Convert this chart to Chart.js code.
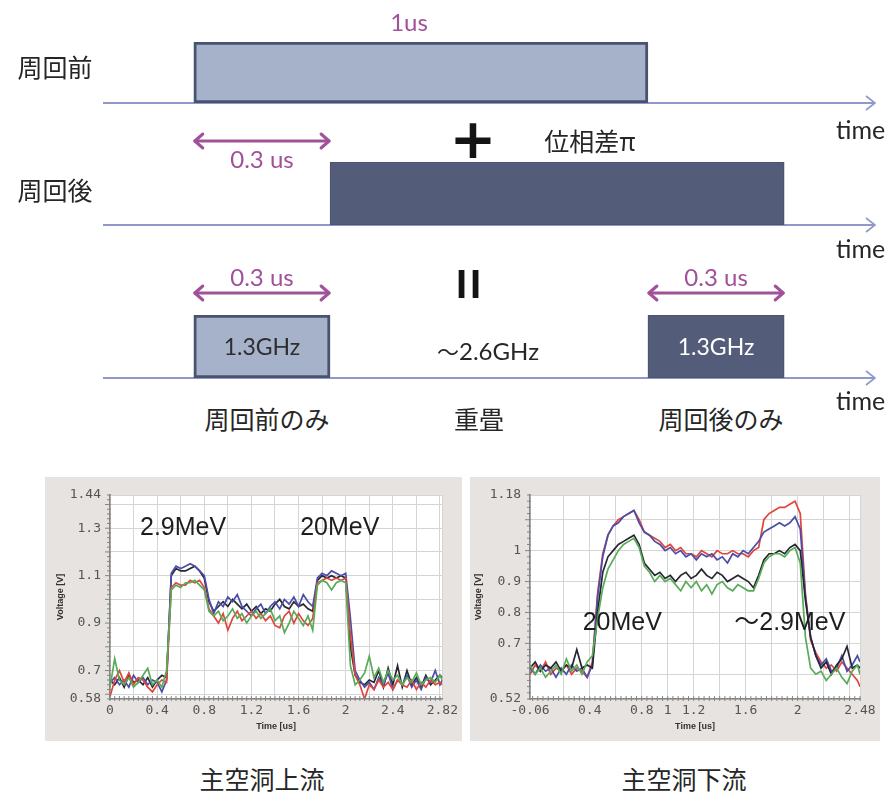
<!DOCTYPE html>
<html>
<head>
<meta charset="utf-8">
<script src="https://cdn.jsdelivr.net/npm/chart.js@4/dist/chart.umd.min.js"></script>
<style>
  html, body { margin: 0; padding: 0; background: #fff; }
  body { width: 891px; height: 802px; position: relative; overflow: hidden; }
  canvas { position: absolute; }
  .lbl { position: absolute; white-space: nowrap; line-height: 1; transform: translate(-50%, -50%); color: #262626; }
  .left { transform: translate(0, -50%); }
  .jp { font-family: "Noto Sans CJK JP", "Noto Sans", sans-serif; font-size: 25px; }
  .en { font-family: Lato, "Noto Sans CJK JP", sans-serif; font-size: 24px; }
  .purple { color: #a1509a; }
</style>
</head>
<body>

<!-- pulse timing rows -->
<canvas id="row1" width="891" height="120" style="left:0;top:0"></canvas>
<canvas id="row2" width="891" height="120" style="left:0;top:120px"></canvas>
<canvas id="row3" width="891" height="140" style="left:0;top:250px"></canvas>

<div class="lbl jp" style="left:55px;top:66px">周回前</div>
<div class="lbl jp" style="left:55px;top:189px">周回後</div>
<div class="lbl en purple" style="left:409px;top:22px">1us</div>
<div class="lbl en left" style="left:836px;top:129px;font-size:25px">time</div>
<div class="lbl en left" style="left:836px;top:248px;font-size:25px">time</div>
<div class="lbl en left" style="left:836px;top:400px;font-size:25px">time</div>
<div class="lbl" style="left:473px;top:138px;font:900 56px 'DejaVu Sans',sans-serif;color:#141414">+</div>
<div class="lbl jp" style="left:590px;top:140px">位相差π</div>
<div class="lbl" style="left:470px;top:284px;font:bold 40px 'Liberation Sans',sans-serif;letter-spacing:3px;color:#141414">II</div>
<div class="lbl" style="left:488px;top:350px;font-size:24px;font-family:'Noto Sans CJK JP',sans-serif"><span style="font-size:22px">〜</span><span style="font-family:Lato,sans-serif">2.6GHz</span></div>
<div class="lbl jp" style="left:267px;top:418px">周回前のみ</div>
<div class="lbl jp" style="left:479px;top:418px">重畳</div>
<div class="lbl jp" style="left:721px;top:418px">周回後のみ</div>

<!-- measured waveforms -->
<canvas id="upstream" width="417" height="264" style="left:45px;top:477px"></canvas>
<canvas id="downstream" width="410" height="264" style="left:470px;top:477px"></canvas>

<div class="lbl jp" style="left:262px;top:778px">主空洞上流</div>
<div class="lbl jp" style="left:684px;top:778px">主空洞下流</div>

<script>
// ---------- pulse timing (us) ----------
const timeWindow = [-0.2, 1.5];
const pulseBefore = [0, 1.0];
const pulseAfter = [0.3, 1.3];
const onlyBefore = [0, 0.3];
const onlyAfter = [1.0, 1.3];
const gapSpan = [0, 0.3];
const tailSpan = [1.0, 1.3];
const spanText = '0.3 us';
const freqText = '1.3GHz';

// ---------- upstream cavity trace ----------
const upTime = [0,0.04,0.08,0.12,0.16,0.2,0.24,0.28,0.32,0.36,0.4,0.44,0.48,0.52,0.56,0.6,0.64,0.68,0.72,0.76,0.8,0.84,0.88,0.92,0.96,1,1.04,1.08,1.12,1.16,1.2,1.24,1.28,1.32,1.36,1.4,1.44,1.48,1.52,1.56,1.6,1.64,1.68,1.72,1.76,1.8,1.84,1.88,1.92,1.96,2,2.04,2.08,2.12,2.16,2.2,2.24,2.28,2.32,2.36,2.4,2.44,2.48,2.52,2.56,2.6,2.64,2.68,2.72,2.76,2.8,2.82];
const upRed = [0.59,0.66,0.70,0.65,0.69,0.64,0.67,0.66,0.63,0.61,0.64,0.66,0.65,
  1.05,1.07,1.06,1.06,1.08,1.07,1.08,1.05,
  0.96,0.93,0.90,0.94,0.87,0.92,0.95,0.91,0.93,0.95,0.92,0.94,0.91,0.93,0.89,0.88,0.93,0.95,0.90,0.94,0.91,0.89,0.92,
  1.07,1.08,1.09,1.08,1.09,1.08,1.09,
  0.85,0.68,0.64,0.58,0.64,0.62,0.66,0.63,0.65,0.62,0.66,0.64,0.63,0.66,0.62,0.65,0.63,0.66,0.64,0.65,0.64];
const upGreen = [0.63,0.75,0.66,0.64,0.67,0.63,0.65,0.68,0.71,0.64,0.66,0.63,0.70,
  1.04,1.06,1.05,1.07,1.07,1.08,1.06,1.04,
  0.95,0.93,0.95,0.91,0.93,0.96,0.92,0.94,0.90,0.93,0.95,0.92,0.94,0.96,0.91,0.93,0.86,0.90,0.95,0.92,0.89,0.93,0.87,
  1.06,1.08,1.07,1.04,1.07,1.08,1.07,
  0.72,0.64,0.66,0.69,0.76,0.67,0.71,0.65,0.70,0.66,0.68,0.64,0.67,0.65,0.69,0.64,0.66,0.67,0.65,0.68,0.66];
const upBlue = [0.65,0.67,0.64,0.66,0.63,0.68,0.65,0.67,0.64,0.66,0.65,0.61,0.66,
  1.11,1.14,1.13,1.14,1.15,1.14,1.12,1.10,
  1.00,0.94,0.99,0.97,1.01,0.99,1.02,0.97,0.95,0.93,0.96,0.98,0.94,0.97,0.99,0.96,1.00,0.98,1.01,0.97,1.02,0.99,0.97,
  1.09,1.11,1.10,1.12,1.11,1.10,1.11,
  0.92,0.70,0.66,0.63,0.65,0.62,0.67,0.64,0.69,0.62,0.66,0.64,0.68,0.63,0.66,0.62,0.67,0.65,0.70,0.64,0.66];
const upBlack = [0.66,0.64,0.67,0.63,0.68,0.65,0.66,0.64,0.67,0.63,0.66,0.68,0.67,
  1.10,1.13,1.12,1.12,1.13,1.14,1.12,1.09,
  0.99,0.95,0.97,0.99,0.97,1.00,0.98,0.96,0.98,0.95,0.97,0.94,0.96,0.95,0.98,1.00,0.97,0.96,0.99,0.97,0.98,0.96,0.95,
  1.08,1.10,1.09,1.10,1.09,1.10,1.09,
  0.80,0.68,0.65,0.64,0.66,0.65,0.70,0.63,0.71,0.64,0.72,0.63,0.70,0.64,0.67,0.63,0.68,0.64,0.66,0.68,0.67];
const upGridX = [0,0.2,0.4,0.6,0.8,1,1.2,1.4,1.6,1.8,2,2.2,2.4,2.6,2.8,2.82];
const upLabelX = [0,0.4,0.8,1.2,1.6,2,2.4,2.82];
const upGridY = [0.58,0.6,0.7,0.8,0.9,1,1.1,1.2,1.3,1.4,1.44];
const upLabelY = [0.58,0.7,0.9,1.1,1.3,1.44];

// ---------- downstream cavity trace ----------
const downTime = [-0.06,-0.02,0.02,0.06,0.1,0.14,0.18,0.22,0.26,0.3,0.34,0.38,0.42,0.46,0.5,0.54,0.58,0.62,0.66,0.7,0.74,0.78,0.82,0.86,0.9,0.94,0.98,1.02,1.06,1.1,1.14,1.18,1.22,1.26,1.3,1.34,1.38,1.42,1.46,1.5,1.54,1.58,1.62,1.66,1.7,1.74,1.78,1.82,1.86,1.9,1.94,1.98,2.02,2.06,2.1,2.14,2.18,2.22,2.26,2.3,2.34,2.38,2.42,2.46,2.48];
const downRed = [0.60,0.63,0.61,0.64,0.60,0.62,0.61,0.63,0.60,0.62,0.61,0.59,0.64,
  0.86,0.99,1.05,1.08,1.10,1.11,1.12,1.13,1.10,
  1.06,1.05,1.04,1.03,1.01,1.02,1.00,1.01,0.99,0.99,0.98,1.00,0.99,0.98,1.00,0.99,0.99,1.00,0.99,0.99,0.98,1.00,1.01,
  1.10,1.12,1.13,1.14,1.14,1.15,1.16,1.12,
  0.86,0.71,0.67,0.64,0.62,0.63,0.61,0.64,0.62,0.60,0.58,0.56];
const downGreen = [0.63,0.60,0.62,0.59,0.61,0.63,0.60,0.65,0.61,0.63,0.60,0.64,0.66,
  0.78,0.88,0.94,0.97,1.00,1.02,1.03,1.04,1.01,
  0.95,0.93,0.90,0.92,0.90,0.91,0.89,0.87,0.90,0.88,0.90,0.87,0.89,0.86,0.89,0.90,0.88,0.87,0.89,0.88,0.87,0.87,0.91,
  0.96,0.98,0.99,0.99,0.98,1.00,1.01,0.96,
  0.72,0.62,0.60,0.61,0.58,0.60,0.62,0.59,0.57,0.61,0.63,0.60];
const downBlue = [0.62,0.60,0.63,0.61,0.62,0.59,0.62,0.60,0.63,0.61,0.62,0.59,0.63,
  0.85,0.98,1.05,1.08,1.09,1.11,1.12,1.13,1.09,
  1.06,1.05,1.03,1.02,1.00,1.01,0.99,1.00,0.98,0.99,0.97,0.99,0.98,0.99,0.97,0.98,0.96,0.99,0.98,1.00,0.99,1.01,1.03,
  1.06,1.07,1.08,1.09,1.08,1.09,1.11,1.07,
  0.85,0.72,0.66,0.63,0.65,0.61,0.62,0.66,0.61,0.63,0.66,0.64];
const downBlack = [0.62,0.64,0.61,0.63,0.62,0.64,0.61,0.63,0.62,0.68,0.62,0.63,0.62,
  0.80,0.93,0.98,1.00,1.02,1.03,1.04,1.05,1.02,
  0.96,0.94,0.92,0.93,0.91,0.92,0.90,0.92,0.93,0.91,0.92,0.94,0.92,0.91,0.93,0.92,0.90,0.91,0.92,0.91,0.90,0.88,0.92,
  0.97,0.99,0.99,1.00,0.99,1.01,1.02,1.00,
  0.84,0.72,0.66,0.62,0.64,0.60,0.63,0.65,0.69,0.62,0.63,0.62];
const downGridX = [-0.06,0.2,0.4,0.6,0.8,1,1.2,1.4,1.6,1.8,2,2.2,2.4,2.48];
const downLabelX = [-0.06,0.4,0.8,1,1.2,1.6,2,2.48];
const downGridY = [0.52,0.6,0.7,0.8,0.9,1,1.1,1.18];
const downLabelY = [0.52,0.7,0.8,0.9,1,1.18];

// ---------- palette ----------
const COL = {
  light: '#a5b2ca', dark: '#535c79', edge: '#49526f', axis: '#8f98c9', purple: '#a1509a',
  red: '#e0453e', green: '#58ab58', blue: '#4a4ea8', black: '#262633',
  panel: '#e7e3e0', grid: '#d5d5d5', frame: '#858585', tick: '#555'
};

// ---------- timing rows ----------
const rowDecor = {
  id: 'rowDecor',
  beforeDatasetsDraw(chart) {
    const { ctx, chartArea, scales: { x } } = chart;
    const y = chartArea.bottom;
    const x0 = x.getPixelForValue(timeWindow[0]);
    const x1 = x.getPixelForValue(timeWindow[1]);
    ctx.save();
    ctx.strokeStyle = COL.axis;
    ctx.lineWidth = 2;
    ctx.beginPath(); ctx.moveTo(x0, y); ctx.lineTo(x1, y); ctx.stroke();
    ctx.lineWidth = 1.6;
    ctx.beginPath(); ctx.moveTo(x1 - 9, y - 7); ctx.lineTo(x1, y); ctx.lineTo(x1 - 9, y + 7); ctx.stroke();
    ctx.restore();
  },
  afterDatasetsDraw(chart, args, opts) {
    const { ctx, chartArea, scales: { x } } = chart;
    ctx.save();
    // pulse-length arrows
    (opts.spans || []).forEach(s => {
      const a = x.getPixelForValue(s.range[0]);
      const b = x.getPixelForValue(s.range[1]);
      const y = chartArea.top + s.dy;
      ctx.strokeStyle = COL.purple;
      ctx.lineWidth = 3;
      ctx.lineCap = 'round';
      ctx.lineJoin = 'round';
      ctx.beginPath(); ctx.moveTo(a + 1, y); ctx.lineTo(b - 1, y); ctx.stroke();
      ctx.beginPath(); ctx.moveTo(a + 9, y - 7); ctx.lineTo(a + 1, y); ctx.lineTo(a + 9, y + 7); ctx.stroke();
      ctx.beginPath(); ctx.moveTo(b - 9, y - 7); ctx.lineTo(b - 1, y); ctx.lineTo(b - 9, y + 7); ctx.stroke();
      ctx.fillStyle = COL.purple;
      ctx.font = '24px Lato, sans-serif';
      ctx.textAlign = 'center';
      ctx.textBaseline = 'middle';
      ctx.fillText(s.text, (a + b) / 2, y + s.textDy);
    });
    // frequency labels inside bars
    chart.data.datasets.forEach((ds, i) => {
      if (!ds.inner) return;
      const bar = chart.getDatasetMeta(i).data[0].getProps(['x', 'base', 'y'], true);
      ctx.fillStyle = ds.innerColor;
      ctx.font = '23px Lato, sans-serif';
      ctx.textAlign = 'center';
      ctx.textBaseline = 'middle';
      ctx.fillText(ds.inner, (bar.x + bar.base) / 2, bar.y + 1);
    });
    ctx.restore();
  }
};

function pulseRow(id, bars, spans, pad) {
  return new Chart(document.getElementById(id), {
    type: 'bar',
    data: {
      labels: [''],
      datasets: bars.map(b => ({
        data: [b.range],
        backgroundColor: b.fill,
        borderColor: COL.edge,
        borderWidth: b.edge,
        borderSkipped: false,
        grouped: false,
        barPercentage: 1,
        categoryPercentage: 1,
        inner: b.inner,
        innerColor: b.innerColor
      }))
    },
    options: {
      indexAxis: 'y',
      responsive: false,
      animation: false,
      events: [],
      layout: { padding: { left: 103, right: 16, top: pad[0], bottom: pad[1] } },
      plugins: { legend: { display: false }, tooltip: { enabled: false }, rowDecor: { spans } },
      scales: {
        x: { type: 'linear', min: timeWindow[0], max: timeWindow[1], display: false },
        y: { display: false }
      }
    },
    plugins: [rowDecor]
  });
}

pulseRow('row1', [{ range: pulseBefore, fill: COL.light, edge: 3 }], [], [42, 17]);
pulseRow('row2', [{ range: pulseAfter, fill: COL.dark, edge: 1 }],
  [{ range: gapSpan, dy: -21, textDy: 19, text: spanText }], [42, 15]);
pulseRow('row3', [
    { range: onlyBefore, fill: COL.light, edge: 3, inner: freqText, innerColor: '#2e2e2e' },
    { range: onlyAfter, fill: COL.dark, edge: 1, inner: freqText, innerColor: '#ffffff' }
  ],
  [{ range: gapSpan, dy: -22, textDy: -15, text: spanText },
   { range: tailSpan, dy: -22, textDy: -15, text: spanText }], [65, 12]);

// ---------- waveform panels ----------
const scopeDecor = {
  id: 'scopeDecor',
  beforeDraw(chart) {
    const { ctx, chartArea: a, width, height } = chart;
    ctx.save();
    ctx.fillStyle = COL.panel;
    ctx.fillRect(0, 0, width, height);
    ctx.fillStyle = '#ffffff';
    ctx.fillRect(a.left, a.top, a.right - a.left, a.bottom - a.top);
    ctx.restore();
  },
  afterDraw(chart, args, opts) {
    const { ctx, chartArea: a, scales: { x, y } } = chart;
    ctx.save();
    ctx.strokeStyle = COL.frame;
    ctx.lineWidth = 1;
    // minor ticks on the voltage axis
    const y0 = Math.ceil(y.min / 0.02 - 1e-6);
    for (let k = y0; k * 0.02 <= y.max + 1e-9; k++) {
      const py = y.getPixelForValue(k * 0.02);
      const major = k % 5 === 0;
      ctx.beginPath(); ctx.moveTo(a.left - (major ? 5 : 3), py); ctx.lineTo(a.left + 1, py); ctx.stroke();
    }
    // minor ticks on the time axis
    const x0 = Math.ceil(x.min / 0.04 - 1e-6);
    for (let k = x0; k * 0.04 <= x.max + 1e-9; k++) {
      const px = x.getPixelForValue(k * 0.04);
      ctx.beginPath(); ctx.moveTo(px, a.bottom - 3); ctx.lineTo(px, a.bottom + 2); ctx.stroke();
    }
    // energy annotations
    ctx.fillStyle = '#1e1e1e';
    ctx.font = '25px "Liberation Sans", Arial, "Noto Sans CJK JP", sans-serif';
    ctx.textAlign = 'center';
    ctx.textBaseline = 'middle';
    (opts.notes || []).forEach(n => {
      ctx.fillText(n.text, x.getPixelForValue(n.x), y.getPixelForValue(n.y));
    });
    ctx.restore();
  }
};

const hasLabel = (list, v) => list.some(l => Math.abs(l - v) < 1e-9);

function traceChart(id, c) {
  return new Chart(document.getElementById(id), {
    type: 'line',
    data: {
      datasets: c.series.map(s => ({
        data: c.time.map((t, i) => ({ x: t, y: s.values[i] })),
        borderColor: s.color,
        borderWidth: 1.7,
        pointRadius: 0,
        tension: 0,
        fill: false
      }))
    },
    options: {
      responsive: false,
      animation: false,
      events: [],
      layout: { padding: { left: c.padLeft, top: 18, right: c.padRight, bottom: 0 } },
      plugins: { legend: { display: false }, tooltip: { enabled: false }, scopeDecor: { notes: c.notes } },
      scales: {
        x: {
          type: 'linear', min: c.xRange[0], max: c.xRange[1],
          afterBuildTicks: s => { s.ticks = c.gridX.map(v => ({ value: v })); },
          afterFit: s => { s.height = 42; },
          ticks: {
            autoSkip: false, maxRotation: 0, padding: 4, color: COL.tick,
            font: { family: '"DejaVu Sans Mono", monospace', size: 13 },
            callback: v => hasLabel(c.labelX, v) ? String(v) : ''
          },
          grid: { color: COL.grid, drawTicks: false },
          border: { color: COL.frame, width: 1.5 },
          title: { display: true, text: 'Time [us]', color: '#333',
                   font: { family: '"Liberation Sans", Arial, sans-serif', size: 9, weight: 'bold' },
                   padding: { top: 0, bottom: 9 } }
        },
        y: {
          type: 'linear', min: c.yRange[0], max: c.yRange[1],
          afterBuildTicks: s => { s.ticks = c.gridY.map(v => ({ value: v })); },
          afterFit: s => { s.width = c.axisWidth; },
          ticks: {
            autoSkip: false, padding: 9, color: COL.tick,
            font: { family: '"DejaVu Sans Mono", monospace', size: 13 },
            callback: v => hasLabel(c.labelY, v) ? String(v) : ''
          },
          grid: { color: COL.grid, drawTicks: false },
          border: { color: COL.frame, width: 1.5 },
          title: { display: true, text: 'Voltage [V]', color: '#333',
                   font: { family: '"Liberation Sans", Arial, sans-serif', size: 9, weight: 'bold' },
                   padding: { top: 0, bottom: 0 } }
        }
      }
    },
    plugins: [scopeDecor]
  });
}

traceChart('upstream', {
  time: upTime,
  series: [
    { values: upGreen, color: COL.green },
    { values: upRed, color: COL.red },
    { values: upBlue, color: COL.blue },
    { values: upBlack, color: COL.black }
  ],
  xRange: [0, 2.82], yRange: [0.58, 1.44],
  gridX: upGridX, labelX: upLabelX, gridY: upGridY, labelY: upLabelY,
  padLeft: 10, axisWidth: 55, padRight: 15,
  notes: [{ text: '2.9MeV', x: 0.62, y: 1.30 }, { text: '20MeV', x: 1.95, y: 1.30 }]
});

traceChart('downstream', {
  time: downTime,
  series: [
    { values: downGreen, color: COL.green },
    { values: downBlack, color: COL.black },
    { values: downBlue, color: COL.blue },
    { values: downRed, color: COL.red }
  ],
  xRange: [-0.06, 2.48], yRange: [0.52, 1.18],
  gridX: downGridX, labelX: downLabelX, gridY: downGridY, labelY: downLabelY,
  padLeft: 3, axisWidth: 57, padRight: 20,
  notes: [{ text: '20MeV', x: 0.65, y: 0.766 }, { text: '〜2.9MeV', x: 1.94, y: 0.766 }]
});
</script>
</body>
</html>
